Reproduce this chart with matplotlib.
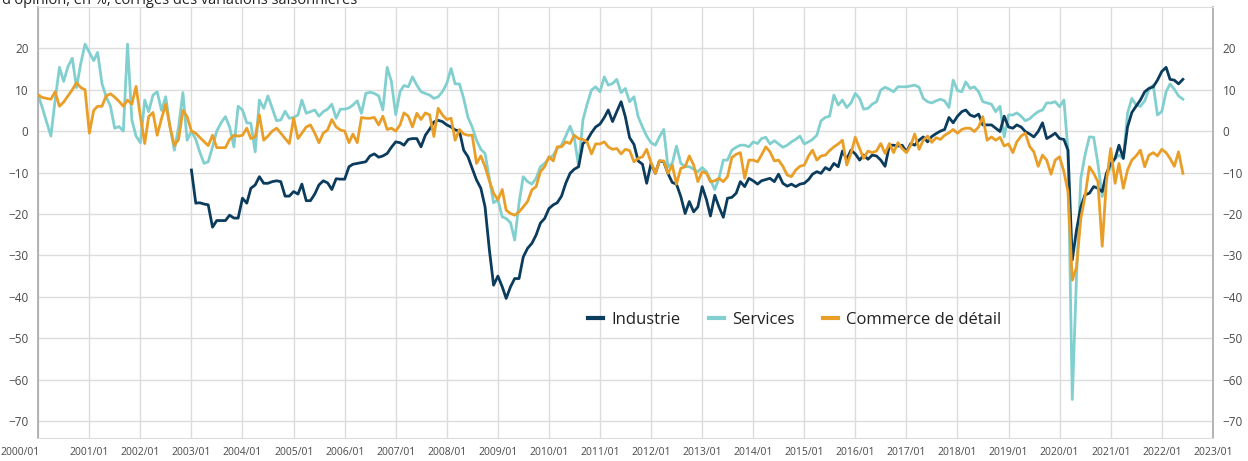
import matplotlib
matplotlib.use("Agg")
import matplotlib.pyplot as plt
from matplotlib.transforms import ScaledTranslation
import numpy as np
import pandas as pd

plt.rcParams['font.family'] = ['Open Sans', 'DejaVu Sans']

# soldes d'opinion mensuels, un an par ligne
services = [
    8.7, 5.5, 2.2, -1.2, 7.5, 15.4, 12, 15.6, 17.6, 10.5, 16.4, 21,
    19, 17, 19, 11.5, 8.3, 6, 0.7, 1.1, 0, 21, 2.7, -1.2,
    -2.8, 7.5, 4.7, 8.7, 9.5, 5, 8.3, 1, -4.6, 1, 9.3, -2.2,
    0, -2, -5, -7.8, -7.4, -3.8, 0, 2, 3.5, 1, -3.8, 6,
    5.1, 2, 1.9, -5, 7.5, 5.5, 8.5, 5.5, 2.5, 2.7, 4.8, 3.1,
    3.3, 3.9, 7.5, 4.3, 4.7, 5.1, 3.6, 4.7, 5.3, 6.5, 3.1, 5.3,
    5.3, 5.6, 6.3, 7.3, 4.3, 9.1, 9.4, 9.1, 8.5, 5.1, 15.4, 12,
    4, 9.5, 11, 10.7, 13.1, 11.1, 9.5, 9.1, 8.7, 7.9, 8.3, 9.5,
    11.5, 15.1, 11.4, 11.4, 7.9, 3.3, 1, -2.2, -4.4, -5.4, -11.4, -17.3,
    -16.6, -20.7, -21.1, -22.1, -26.3, -17.4, -11, -12.2, -12.8, -11.4, -8.6, -7.8,
    -6.6, -5.8, -4.2, -3.4, -1.2, 1.2, -1.5, -8.5, 2.7, 6.5, 9.9, 10.7,
    9.5, 13.1, 11.1, 11.5, 12.5, 9.3, 10.3, 7.1, 8.3, 3.5, 1, -1.2,
    -2.8, -3.4, -1.4, 0.4, -8.6, -7.8, -3.6, -7.8, -8.5, -8.6, -9.2, -9.8,
    -8.8, -9.8, -11.8, -14.1, -11.4, -7, -7, -4.6, -3.9, -3.4, -3.4, -3.8,
    -2.6, -3, -1.8, -1.5, -3.1, -2.3, -3.1, -3.9, -3.4, -2.6, -2, -1.2,
    -3.1, -2.6, -2, -1, 2.5, 3.3, 3.6, 8.7, 6.3, 7.5, 5.7, 6.8,
    9.1, 7.9, 5.3, 5.5, 6.5, 7.1, 9.9, 10.6, 10.1, 9.5, 10.7, 10.7,
    10.7, 10.9, 11.1, 10.6, 7.9, 7.1, 6.8, 7.3, 7.7, 7.3, 5.7, 12.3,
    9.8, 9.5, 11.9, 10.3, 10.7, 9.5, 7.1, 6.8, 6.5, 4.7, 6, -1.4,
    3.9, 3.9, 4.4, 3.6, 2.5, 3, 3.9, 4.7, 5.1, 6.8, 6.8, 7.1,
    5.9, 7.5, -4.6, -64.8, -35.2, -11.4, -5.8, -1.4, -1.5, -7.8, -15.8, -11,
    -8.6, -6.6, -5.8, -6.6, 4.3, 7.9, 6.3, 6, 7.3, 10.1, 11.1, 3.9,
    4.7, 9.5, 11.4, 10.1, 8.5, 7.7,
]

commerce = [
    8.7, 8.1, 7.9, 7.7, 9.5, 6, 7, 8.5, 10, 11.7, 10.5, 10,
    -0.5, 5, 6, 6, 8.5, 9, 8.2, 7.2, 6, 7.5, 6.5, 10.8,
    3.5, -3, 3.5, 4.5, -1, 3, 6.5, 1, -3.5, -2, 5, 3.5,
    0, -0.5, -1.5, -2.5, -3.5, -1, -4, -4, -4, -2, -1, -1.2,
    -1, 0.7, -1.8, -1.4, 3.9, -2.2, -1.2, 0, 0.7, -0.5, -1.8, -3,
    3.1, -1.8, -0.5, 1, 1.5, -0.5, -2.8, -0.5, 0.3, 2.8, 1, 0.3,
    0, -2.8, -0.7, -2.8, 3.3, 3.1, 3.1, 3.3, 1.5, 3.6, 0.4, 0.7,
    0, 1.5, 4.4, 3.6, 1, 4.3, 2.8, 4.4, 3.9, -1.3, 5.5, 3.9,
    2.8, 3.1, -2.2, 0.4, -0.7, -1, -1, -7.8, -6, -8.6, -12, -15,
    -16.6, -14.1, -19.1, -19.9, -20.3, -19.5, -18.3, -17, -14.2, -13.4, -9.8, -8.6,
    -6.2, -7.2, -3.8, -3.8, -2.6, -3, -1, -1.8, -2, -2.6, -5.5, -3.1,
    -3.1, -2.6, -3.8, -4.4, -4.2, -5.5, -4.4, -4.7, -7.4, -6.6, -6.2, -4.4,
    -7.6, -10.2, -7.2, -7.2, -10.2, -8.2, -12.8, -9, -8.6, -6, -8.2, -12.2,
    -9.8, -10.2, -12.2, -12, -11.4, -12.2, -11, -6.4, -5.6, -5.2, -11.4, -7,
    -7, -7.4, -5.8, -3.8, -5, -7.2, -7, -8.5, -10.6, -11, -9.4, -8.5,
    -8.2, -6, -4.6, -7, -6, -5.8, -4.7, -3.8, -3.1, -2.2, -8.2, -5.4,
    -1.5, -4.2, -6.6, -4.8, -5.2, -4.8, -3, -5.4, -3, -5.2, -2.8, -4.2,
    -5.2, -3.4, -0.7, -4.4, -2.2, -1.2, -2.7, -1.6, -2, -1, -0.4, 0.4,
    -0.5, 0.4, 0.7, 0.7, -0.1, 1, 3.5, -2.2, -1.4, -2.2, -1.5, -3.6,
    -3.1, -5.2, -2.6, -1.2, -0.5, -3.7, -5, -8.5, -5.8, -7, -10.4, -7,
    -6.2, -9.8, -14.6, -36, -32.9, -21.1, -15.8, -8.6, -10.2, -12.2, -27.8, -12.2,
    -4.2, -12.6, -7.8, -13.8, -9.4, -7, -6, -4.6, -8.6, -5.8, -5.2, -6,
    -4.4, -5.2, -6.6, -8.5, -5, -10.2,
]

# l'industrie commence en 2003/01
industrie = [
    -9.4, -17.4, -17.3, -17.6, -17.8, -23.2, -21.6, -21.6, -21.6, -20.3, -21, -21,
    -16.2, -17.4, -13.8, -13, -11, -12.6, -12.6, -12.2, -12, -12.2, -15.7, -15.7,
    -14.6, -15.2, -12.8, -16.8, -16.8, -15.2, -13, -12, -12.5, -14.1, -11.5, -11.6,
    -11.6, -8.6, -8, -7.8, -7.6, -7.4, -6, -5.5, -6.3, -6, -5.4, -3.9,
    -2.6, -2.8, -3.4, -2, -1.8, -1.8, -3.8, -1, 0.5, 2.2, 2.6, 2.3,
    1.5, 1, 0.3, 0, -4.6, -6.2, -9, -11.8, -13.8, -18.3, -28.7, -37.2,
    -35, -37.6, -40.4, -37.6, -35.6, -35.6, -30.4, -28.3, -27.1, -25.1, -22.2, -21.1,
    -18.7, -17.8, -17.3, -15.7, -12.6, -10.2, -9.2, -8.6, -3, -2.2, -0.4, 1,
    1.7, 3.3, 5.1, 2.3, 4.7, 7.1, 3.5, -1.6, -3.2, -7.2, -8, -12.6,
    -7.8, -10.2, -7.2, -7.4, -10.2, -12.4, -12.8, -15.8, -19.9, -17, -19.5, -18.3,
    -13.4, -16.6, -20.5, -15.5, -18.3, -20.8, -16.2, -16, -15, -12.2, -13.4, -11.4,
    -12, -12.8, -12, -11.7, -11.4, -12.2, -10.4, -12.6, -13.3, -12.8, -13.4, -12.8,
    -12.6, -11.7, -10.4, -9.8, -10.2, -8.8, -9.4, -7.8, -8.6, -4.8, -6.8, -4.6,
    -5.5, -7, -5.8, -6.8, -5.8, -6, -7, -8.5, -3.4, -3.4, -3.6, -3.4,
    -5, -3, -3.4, -2.2, -1.4, -2.6, -1.3, -0.6, 0, 0.4, 3.3, 2,
    3.6, 4.7, 5.1, 3.9, 3.5, 4.1, 1.5, 1.5, 1.5, 0.7, -0.1, 3.6,
    1, 0.7, 1.5, 1, -0.1, -0.7, -1.4, -0.1, 2, -1.8, -1.2, -0.5,
    -1.8, -2, -4.6, -31.1, -23.9, -18.3, -15.4, -15, -13.4, -13.8, -14.6, -10.2,
    -7.8, -6.6, -3.4, -6.6, 1, 4.5, 6, 7.5, 9.5, 10.3, 10.7, 12.3,
    14.4, 15.4, 12.5, 12.3, 11.4, 12.5,
]

dates_all = pd.date_range('2000-01-01', periods=len(services), freq='MS')
dates_ind = pd.date_range('2003-01-01', periods=len(industrie), freq='MS')

c_ind = '#0b3c5d'
c_srv = '#82cfcf'
c_com = '#e99e27'
grid_c = '#dcdcdc'
txt_c = '#4a4a4a'

fig = plt.figure(figsize=(12.48, 4.61), dpi=100)
ax = fig.add_axes([0.0306, 0.0508, 0.9412, 0.9343])

l_srv, = ax.plot(dates_all, services, color=c_srv, lw=2.0, zorder=2, label='Services')
l_ind, = ax.plot(dates_ind, industrie, color=c_ind, lw=2.0, zorder=3, label='Industrie')
l_com, = ax.plot(dates_all, commerce, color=c_com, lw=2.0, zorder=4, label='Commerce de détail')

ax.set_xlim(pd.Timestamp('2000-01-01'), pd.Timestamp('2023-01-01'))
ax.set_ylim(-74, 30)

years = pd.date_range('2000-01-01', '2023-01-01', freq='YS')
ax.set_xticks(years)
ax.set_xticklabels([d.strftime('%Y/%m') for d in years])
ax.set_yticks(np.arange(-70, 21, 10))

ax.grid(True, color=grid_c, lw=1.0)
ax.set_axisbelow(True)

ax.tick_params(axis='x', length=0, pad=7, labelsize=7.5, colors=txt_c)
ax.tick_params(axis='y', length=0, pad=7, labelsize=8.5, colors=txt_c,
               labelleft=True, labelright=True)

for side in ['left', 'right']:
    ax.spines[side].set_color('#a8a8a8')
    ax.spines[side].set_linewidth(1.2)
ax.spines['top'].set_color(grid_c)
ax.spines['bottom'].set_color(grid_c)

# le premier libellé est décalé pour rester dans l'image
first = ax.get_xticklabels()[0]
first.set_transform(first.get_transform() + ScaledTranslation(-0.18, 0, fig.dpi_scale_trans))

ax.legend(handles=[l_ind, l_srv, l_com], loc='center', bbox_to_anchor=(0.644, 0.273),
          ncol=3, frameon=False, fontsize=12, handlelength=0.9, handletextpad=0.5,
          columnspacing=1.7, labelcolor='#222222')
for h in ax.get_legend().get_lines():
    h.set_linewidth(3)

fig.text(0.002, 1 - 4.5 / 461, "d'opinion, en %, corrigés des variations saisonnières",
         ha='left', va='baseline', fontsize=10.5, color='#222222')

fig.savefig('out.png', dpi=100)
